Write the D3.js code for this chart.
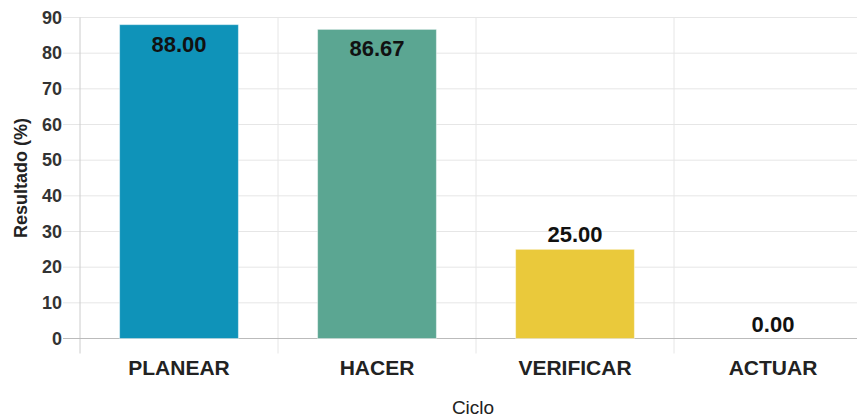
<!DOCTYPE html>
<meta charset="utf-8">
<script src="https://d3js.org/d3.v7.min.js"></script>
<style>
  body { margin: 0; background: #fff; }
  text { font-family: "Liberation Sans", Arial, sans-serif; }
</style>
<body>
<div id="chart"></div>
<script>
  var categories = ["PLANEAR", "HACER", "VERIFICAR", "ACTUAR"];
  var values = [88.00, 86.67, 25.00, 0.00];
  var colors = ["#0f93b9", "#5ba692", "#eac93b", "#d9534f"];
  var yTicks = [0, 10, 20, 30, 40, 50, 60, 70, 80, 90];

  var W = 857, H = 418;
  var plotLeft = 80, plotRight = 872, plotTop = 17.5, plotBottom = 338.5;

  var svg = d3.select("#chart").append("svg")
      .attr("width", W)
      .attr("height", H);

  var x = d3.scaleBand().domain(categories).range([plotLeft, plotRight]).padding(0);
  var y = d3.scaleLinear().domain([0, 90]).range([plotBottom, plotTop]);

  // horizontal grid
  svg.append("g").selectAll("line")
    .data(yTicks.filter(d => d > 0))
    .enter().append("line")
      .attr("x1", plotLeft - 17).attr("x2", W)
      .attr("y1", d => y(d)).attr("y2", d => y(d))
      .style("stroke", "#e6e6e6")
      .style("stroke-width", 1);

  // vertical grid at band edges
  svg.append("g").selectAll("line")
    .data(categories.slice(1))
    .enter().append("line")
      .attr("x1", d => x(d)).attr("x2", d => x(d))
      .attr("y1", plotTop).attr("y2", plotBottom + 15)
      .style("stroke", "#e6e6e6")
      .style("stroke-width", 1);

  // left axis line
  svg.append("line")
    .attr("x1", plotLeft).attr("x2", plotLeft)
    .attr("y1", plotTop).attr("y2", plotBottom + 15)
    .style("stroke", "#cccccc");

  // zero line
  svg.append("line")
    .attr("x1", plotLeft - 17).attr("x2", W)
    .attr("y1", y(0)).attr("y2", y(0))
    .style("stroke", "#bbbbbb");

  // y tick labels
  svg.append("g").selectAll("text")
    .data(yTicks)
    .enter().append("text")
      .attr("x", 62)
      .attr("y", d => y(d))
      .attr("dy", "0.35em")
      .attr("text-anchor", "end")
      .style("font-size", "18px")
      .style("font-weight", "bold")
      .style("fill", "#333")
      .text(d => d);

  // bars
  var bw = x.bandwidth() * 0.6;
  svg.append("g").selectAll("rect")
    .data(values)
    .enter().append("rect")
      .attr("x", (d, i) => x(categories[i]) + (x.bandwidth() - bw) / 2)
      .attr("y", d => y(d))
      .attr("width", bw)
      .attr("height", d => y(0) - y(d))
      .style("fill", (d, i) => colors[i])
      .style("stroke", "rgba(255,255,255,0.45)")
      .style("stroke-width", 1);

  // value labels
  svg.append("g").selectAll("text")
    .data(values)
    .enter().append("text")
      .attr("x", (d, i) => x(categories[i]) + x.bandwidth() / 2)
      .attr("y", d => d > 50 ? y(d) + 27 : y(d) - 7)
      .attr("text-anchor", "middle")
      .style("font-size", "22px")
      .style("font-weight", "bold")
      .style("fill", "#111")
      .text(d => d.toFixed(2));

  // x labels
  svg.append("g").selectAll("text")
    .data(categories)
    .enter().append("text")
      .attr("x", d => x(d) + x.bandwidth() / 2)
      .attr("y", 375)
      .attr("text-anchor", "middle")
      .style("font-size", "21px")
      .style("font-weight", "bold")
      .style("fill", "#222")
      .text(d => d);

  // axis titles
  svg.append("text")
    .attr("x", 473).attr("y", 414)
    .attr("text-anchor", "middle")
    .style("font-size", "19px")
    .style("fill", "#222")
    .text("Ciclo");

  svg.append("text")
    .attr("transform", "translate(27," + 178 + ") rotate(-90)")
    .attr("text-anchor", "middle")
    .style("font-size", "18px")
    .style("font-weight", "bold")
    .style("fill", "#222")
    .text("Resultado (%)");
</script>
</body>
</html>
